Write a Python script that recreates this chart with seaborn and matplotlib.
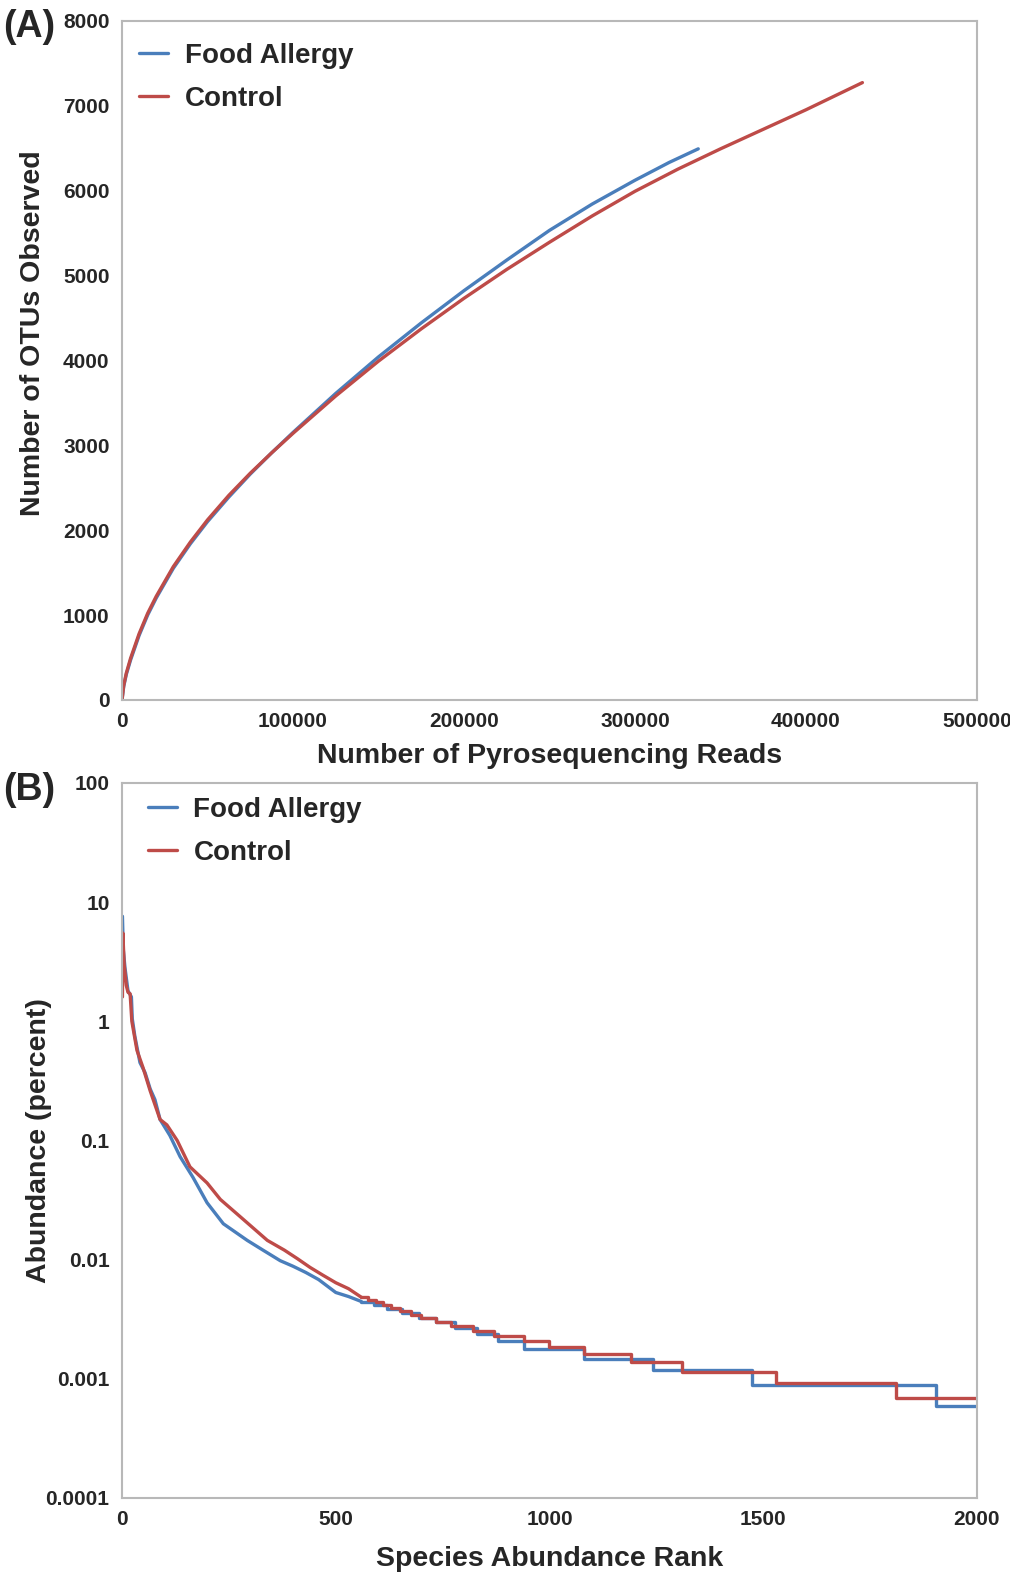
import matplotlib
matplotlib.use("Agg")
import matplotlib.pyplot as plt
import seaborn as sns

# ---- Panel A: rarefaction curves ----
fa_reads = [0, 1000, 2500, 5000, 10000, 15000, 20000, 30000, 40000, 50000,
            62500, 75000, 87500, 100000, 125000, 150000, 175000, 200000,
            225000, 250000, 275000, 300000, 320000, 337000]
fa_otus = [0, 160, 300, 470, 760, 1000, 1200, 1550, 1840, 2100,
           2390, 2660, 2910, 3150, 3610, 4040, 4440, 4820,
           5180, 5530, 5840, 6120, 6330, 6490]
ctrl_reads = [0, 1000, 2500, 5000, 10000, 15000, 20000, 30000, 40000, 50000,
              62500, 75000, 87500, 100000, 125000, 150000, 175000, 200000,
              225000, 250000, 275000, 300000, 325000, 350000, 375000,
              400000, 433000]
ctrl_otus = [0, 170, 315, 490, 780, 1020, 1220, 1570, 1860, 2120,
             2410, 2670, 2910, 3140, 3580, 3990, 4370, 4730,
             5070, 5390, 5700, 5990, 6250, 6490, 6720,
             6950, 7270]

# ---- Panel B: rank abundance (percent) ----
fa_rank_head = [1, 3, 7, 14, 22, 24, 30, 42, 54, 66, 77, 89, 112, 136, 166,
                199, 237, 293, 330, 370, 400, 430, 460, 500, 530, 560]
fa_abund_head = [7.6, 4.0, 2.8, 1.8, 1.6, 1.05, 0.75, 0.45, 0.37, 0.27, 0.22,
                 0.15, 0.11, 0.073, 0.049, 0.030, 0.020, 0.0145, 0.012,
                 0.0098, 0.0088, 0.0078, 0.0068, 0.0053, 0.0049, 0.00445]
fa_rank_tail = [560, 590, 620, 655, 695, 735, 780, 830, 880, 940, 1080,
                1241, 1473, 1904, 2000]
fa_abund_tail = [0.00445, 0.00415, 0.00386, 0.00356, 0.00326, 0.00297,
                 0.00267, 0.00237, 0.00208, 0.00178, 0.00148, 0.00119,
                 0.00089, 0.00059, 0.00059]

ctrl_rank_head = [1, 2, 5, 10, 14, 19, 23, 35, 49, 66, 89, 105, 129, 159,
                  199, 230, 276, 340, 380, 410, 440, 470, 500, 530, 560]
ctrl_abund_head = [1.6, 5.5, 3.0, 2.0, 1.75, 1.7, 1.0, 0.57, 0.41, 0.26,
                   0.15, 0.135, 0.10, 0.06, 0.044, 0.032, 0.023, 0.0145,
                   0.012, 0.0102, 0.0086, 0.0074, 0.0064, 0.0057, 0.00483]
ctrl_rank_tail = [560, 575, 595, 610, 630, 650, 675, 700, 735, 770, 820,
                  870, 940, 1000, 1080, 1190, 1310, 1530, 1810, 2000]
ctrl_abund_tail = [0.00483, 0.0046, 0.00437, 0.00414, 0.00391, 0.00368,
                   0.00345, 0.00322, 0.00299, 0.00276, 0.00253, 0.0023,
                   0.00207, 0.00184, 0.00161, 0.00138, 0.00115, 0.00092,
                   0.00069, 0.00069]

BLUE = "#4a7ebb"
RED = "#be4b48"
GREY = "#b8b8b8"

sns.set_style("white")
plt.rcParams["font.family"] = ["Liberation Sans", "DejaVu Sans"]
plt.rcParams["font.weight"] = "bold"

fig = plt.figure(figsize=(10.1, 15.74), dpi=100)
axA = fig.add_axes([0.1208, 0.5553, 0.8465, 0.4316])
axB = fig.add_axes([0.1208, 0.0483, 0.8465, 0.4543])


def style_axes(ax):
    for s in ax.spines.values():
        s.set_color(GREY)
        s.set_linewidth(1.5)
    ax.tick_params(axis="both", which="major", direction="out", length=4,
                   width=1.2, color=GREY, labelsize=15, pad=5)
    ax.tick_params(axis="both", which="minor", length=0)
    for lab in ax.get_xticklabels() + ax.get_yticklabels():
        lab.set_fontweight("bold")


# Panel A
sns.lineplot(x=fa_reads, y=fa_otus, ax=axA, color=BLUE, lw=2.4,
             label="Food Allergy", estimator=None)
sns.lineplot(x=ctrl_reads, y=ctrl_otus, ax=axA, color=RED, lw=2.4,
             label="Control", estimator=None)
axA.set_xlim(0, 500000)
axA.set_ylim(0, 8000)
axA.set_xticks(range(0, 500001, 100000))
axA.set_yticks(range(0, 8001, 1000))
axA.set_xlabel("Number of Pyrosequencing Reads", fontsize=20.5,
               fontweight="bold", labelpad=8)
axA.set_ylabel("Number of OTUs Observed", fontsize=20.5, fontweight="bold")
axA.yaxis.set_label_coords(-0.089, 0.54)
style_axes(axA)
axA.legend(loc="upper left", bbox_to_anchor=(-0.006, 1.0), frameon=False,
           handlelength=1.05, handletextpad=0.6, labelspacing=0.62,
           borderaxespad=0.4, prop={"weight": "bold", "size": 20})

# Panel B
sns.lineplot(x=fa_rank_head, y=fa_abund_head, ax=axB, color=BLUE, lw=2.4,
             label="Food Allergy", estimator=None)
sns.lineplot(x=ctrl_rank_head, y=ctrl_abund_head, ax=axB, color=RED, lw=2.4,
             label="Control", estimator=None)
sns.lineplot(x=fa_rank_tail, y=fa_abund_tail, ax=axB, color=BLUE, lw=2.4,
             drawstyle="steps-post", estimator=None, legend=False)
sns.lineplot(x=ctrl_rank_tail, y=ctrl_abund_tail, ax=axB, color=RED, lw=2.4,
             drawstyle="steps-post", estimator=None, legend=False)
axB.set_yscale("log")
axB.set_xlim(0, 2000)
axB.set_ylim(0.0001, 100)
axB.set_xticks(range(0, 2001, 500))
yt = [0.0001, 0.001, 0.01, 0.1, 1, 10, 100]
axB.set_yticks(yt)
axB.set_yticklabels(["0.0001", "0.001", "0.01", "0.1", "1", "10", "100"])
axB.set_xlabel("Species Abundance Rank", fontsize=20.5, fontweight="bold",
               labelpad=12)
axB.set_ylabel("Abundance (percent)", fontsize=20.5, fontweight="bold")
axB.yaxis.set_label_coords(-0.082, 0.5)
style_axes(axB)
axB.legend(loc="upper left", bbox_to_anchor=(0.004, 1.012), frameon=False,
           handlelength=1.05, handletextpad=0.6, labelspacing=0.62,
           borderaxespad=0.4, prop={"weight": "bold", "size": 20})

fig.text(0.003, 0.983, "(A)", fontsize=27, fontweight="bold",
         va="center", ha="left")
fig.text(0.003, 0.498, "(B)", fontsize=27, fontweight="bold",
         va="center", ha="left")

fig.savefig("out.png", dpi=100)
